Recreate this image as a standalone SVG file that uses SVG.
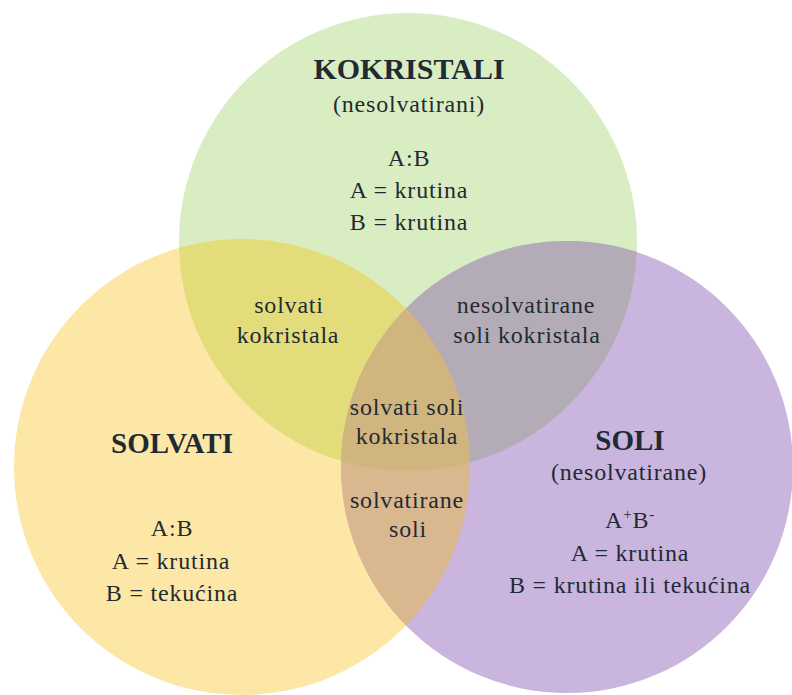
<svg xmlns="http://www.w3.org/2000/svg" width="792" height="695" viewBox="0 0 792 695">
<style>
text{font-family:"Liberation Serif","Times New Roman",serif;fill:#1f2b33;text-anchor:middle}
.t{font-size:29px;font-weight:bold}
.r{font-size:24px;letter-spacing:0.8px}
</style>
<defs>
<clipPath id="cG"><circle cx="408" cy="242" r="229"/></clipPath>
<clipPath id="cY"><circle cx="242" cy="467" r="228"/></clipPath>
<clipPath id="cP"><circle cx="567" cy="467" r="226"/></clipPath>
</defs>
<rect width="792" height="695" fill="#ffffff"/>
<g id="circles">
<circle id="green" cx="408" cy="242" r="229" fill="#d9edc2"/>
<circle id="yellow" cx="242" cy="467" r="228" fill="#fde7a6"/>
<circle id="purple" cx="567" cy="467" r="226" fill="#cab5df"/>
<circle cx="242" cy="467" r="228" fill="#e2dc7b" clip-path="url(#cG)"/>
<circle cx="567" cy="467" r="226" fill="#b3abb6" clip-path="url(#cG)"/>
<circle cx="567" cy="467" r="226" fill="#d9b78f" clip-path="url(#cY)"/>
<g clip-path="url(#cG)"><circle cx="567" cy="467" r="226" fill="#d1b57e" clip-path="url(#cY)"/></g>
</g>
<g id="kokristali">
<text class="t" x="409" y="79" style="font-size:30px">KOKRISTALI</text>
<text class="r" x="409" y="112">(nesolvatirani)</text>
<text class="r" x="409" y="166">A:B</text>
<text class="r" x="409" y="198">A = krutina</text>
<text class="r" x="409" y="230">B = krutina</text>
</g>
<g id="solvati">
<text class="t" x="172" y="453">SOLVATI</text>
<text class="r" x="172" y="536">A:B</text>
<text class="r" x="171" y="569">A = krutina</text>
<text class="r" x="172" y="601">B = tekućina</text>
</g>
<g id="soli">
<text class="t" x="630" y="450">SOLI</text>
<text class="r" x="629" y="480">(nesolvatirane)</text>
<text class="r" x="630" y="528">A<tspan font-size="15" dy="-9">+</tspan><tspan dy="9">B</tspan><tspan font-size="15" dy="-9">-</tspan></text>
<text class="r" x="630" y="561">A = krutina</text>
<text class="r" x="630" y="593">B = krutina ili tekućina</text>
</g>
<g id="solvati-kokristala">
<text class="r" x="289" y="313">solvati</text>
<text class="r" x="288" y="343">kokristala</text>
</g>
<g id="nesolvatirane-soli-kokristala">
<text class="r" x="526" y="313">nesolvatirane</text>
<text class="r" x="527" y="343">soli kokristala</text>
</g>
<g id="solvati-soli-kokristala">
<text class="r" x="407" y="415">solvati soli</text>
<text class="r" x="407" y="444">kokristala</text>
</g>
<g id="solvatirane-soli">
<text class="r" x="407" y="508">solvatirane</text>
<text class="r" x="408" y="537">soli</text>
</g>
</svg>
